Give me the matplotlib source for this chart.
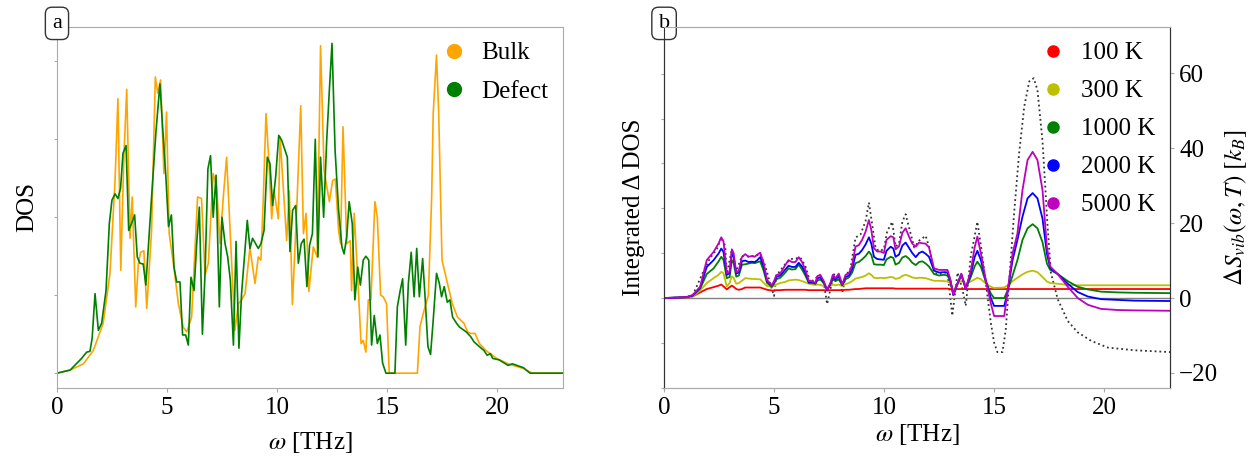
import matplotlib
matplotlib.use("Agg")
import matplotlib.pyplot as plt
from matplotlib.lines import Line2D

plt.rcParams['font.family'] = ['Liberation Serif', 'DejaVu Serif']
plt.rcParams['mathtext.fontset'] = 'stix'

# ---- panel a: phonon DOS (arbitrary units) ----
bulk_w = [0, 0.6, 1.2, 1.65, 2.1, 2.41, 2.64, 2.77, 2.9, 3.04, 3.17, 3.32, 3.42, 3.58, 3.7, 3.8,
          3.95, 4.08, 4.3, 4.47, 4.58, 4.71, 4.86, 4.98, 5.1, 5.29, 5.52, 5.74, 5.9, 6.12, 6.39,
          6.57, 6.73, 6.88, 7.1, 7.26, 7.41, 7.56, 7.71, 7.94, 8.09, 8.24, 8.39, 8.55, 8.77, 9.0,
          9.15, 9.27, 9.38, 9.5, 9.62, 9.76, 9.86, 10.06, 10.14, 10.44, 10.56, 10.7, 10.9, 11.08,
          11.2, 11.32, 11.45, 11.65, 11.83, 11.98, 12.14, 12.38, 12.53, 12.65, 12.8, 12.89, 13.0,
          13.17, 13.33, 13.39, 13.51, 13.7, 13.82, 13.92, 14.04, 14.15, 14.27, 14.45, 14.56, 14.71,
          14.83, 14.98, 15.1, 16.38, 16.5, 16.68, 16.88, 17.03, 17.1, 17.25, 17.35, 17.5, 17.75,
          17.97, 18.2, 18.5, 18.66, 18.8, 19.0, 19.2, 19.5, 19.98, 20.5, 21.2, 21.6, 23.0]
bulk_dos = [0, 0.04, 0.12, 0.29, 0.64, 1.28, 2.47, 3.52, 1.32, 2.77, 3.64, 1.73, 2.26, 0.85, 1.41, 1.55,
            1.57, 0.83, 1.83, 3.8, 3.59, 3.76, 2.56, 3.35, 1.79, 1.41, 0.89, 0.59, 0.53, 0.72, 2.26,
            2.24, 1.26, 1.41, 2.56, 2.39, 1.66, 2.26, 2.77, 1.41, 0.55, 0.89, 0.94, 1.02, 1.61, 1.15,
            1.49, 1.45, 2.26, 3.33, 2.77, 1.98, 2.35, 1.98, 3.03, 1.7, 2.34, 0.88, 2.13, 3.43,
            1.79, 2.05, 1.05, 1.62, 1.49, 4.2, 2.6, 2.2, 2.47, 2.49, 1.83, 1.66, 3.16,
            1.66, 1.7, 1.06, 2.05, 1.06, 0.38, 0.42, 0.27, 0.94, 0.94, 2.2, 2.0, 1.0,
            0.98, 0.89, 0, 0, 0.6, 0.8, 1.0, 2.26, 3.33, 4.08, 3.33, 1.45, 1.15,
            0.89, 0.72, 0.64, 0.53, 0.51, 0.51, 0.38, 0.29, 0.19, 0.12, 0.06, 0, 0]

defect_w = [0, 0.6, 1.12, 1.35, 1.5, 1.6, 1.73, 1.88, 2.03, 2.23, 2.38, 2.5, 2.64, 2.77, 2.89, 3.0,
            3.14, 3.26, 3.39, 3.53, 3.65, 3.77, 3.92, 4.04, 4.2, 4.35, 4.5, 4.68, 4.83, 4.95, 5.07,
            5.2, 5.32, 5.44, 5.59, 5.71, 5.85, 5.97, 6.09, 6.23, 6.35, 6.47, 6.61, 6.73, 6.86, 6.98,
            7.1, 7.23, 7.38, 7.5, 7.64, 7.76, 7.88, 8.02, 8.14, 8.27, 8.39, 8.52, 8.65, 8.77, 8.89,
            9.03, 9.15, 9.27, 9.41, 9.56, 9.68, 9.8, 9.94, 10.08, 10.21, 10.47, 10.59, 10.71, 10.85,
            10.97, 11.1, 11.23, 11.36, 11.48, 11.61, 11.74, 11.86, 11.98, 12.12, 12.26, 12.38, 12.5,
            12.64, 12.8, 12.95, 13.05, 13.17, 13.28, 13.42, 13.54, 13.67, 13.79, 13.92, 14.04, 14.17,
            14.3, 14.42, 14.56, 14.68, 14.8, 14.95, 15.36, 15.47, 15.6, 15.71, 15.85, 15.97, 16.1,
            16.23, 16.35, 16.47, 16.62, 16.73, 16.86, 16.98, 17.1, 17.25, 17.38, 17.48, 17.6, 17.74,
            17.86, 17.98, 18.16, 18.3, 18.6, 18.8, 18.96, 19.2, 19.41, 19.55, 19.7, 19.8, 20.1, 20.5,
            20.7, 21.2, 21.5, 23.0]
defect_dos = [0, 0.04, 0.19, 0.27, 0.28, 0.45, 1.02, 0.55, 0.64, 1.06, 1.92, 2.22, 2.3, 2.24, 2.37, 2.82,
              2.92, 1.83, 1.92, 2.03, 1.49, 1.41, 1.4, 1.13, 1.83, 2.47, 3.1, 3.71, 3.03, 2.52, 1.88,
              2.03, 1.36, 1.17, 1.17, 0.49, 0.49, 0.36, 1.23, 1.06, 1.66, 2.13, 0.5, 1.28, 2.62, 2.79,
              2.0, 2.54, 0.85, 2.0, 1.66, 1.49, 1.19, 0.36, 1.69, 0.32, 1.02, 1.49, 1.96, 1.6, 1.73,
              1.66, 1.6, 1.66, 1.83, 2.77, 2.69, 2.15, 2.52, 3.05, 2.99, 2.77, 1.56, 2.09, 2.15,
              1.41, 1.66, 1.72, 1.11, 1.64, 1.79, 3.0, 1.49, 2.77, 2.0, 2.99, 3.63, 4.23,
              2.86, 2.09, 1.62, 1.53, 1.75, 2.2, 1.92, 0.94, 1.36, 1.13, 1.45, 1.5, 1.45,
              0.36, 0.74, 0.38, 0.49, 0.13, 0, 0, 0.85, 1.06, 1.21, 0.36, 1.15, 1.55,
              0.98, 1.6, 0.98, 1.47, 0.98, 0.34, 0.24, 0.68, 1.28, 1.15, 0.98, 1.11, 0.91,
              0.94, 0.72, 0.64, 0.59, 0.53, 0.47, 0.4, 0.34, 0.29, 0.23, 0.25, 0.19, 0.17, 0.1,
              0.12, 0.07, 0, 0]

# ---- panel b: vibrational entropy change and integrated delta DOS ----
omega_b = [0, 1.0, 1.3, 1.64, 1.94, 2.25, 2.48, 2.6, 2.7, 2.85, 2.98, 3.08, 3.16, 3.28, 3.4, 3.54,
           3.69, 3.84, 3.99, 4.12, 4.22, 4.37, 4.53, 4.68, 4.9, 5.0, 5.1, 5.28, 5.51, 5.66, 5.81,
           5.97, 6.12, 6.27, 6.42, 6.58, 6.73, 6.88, 6.96, 7.1, 7.26, 7.41, 7.56, 7.67, 7.79, 7.94,
           8.1, 8.25, 8.4, 8.55, 8.7, 8.85, 9.0, 9.16, 9.31, 9.42, 9.54, 9.69, 9.84, 9.99, 10.11,
           10.3, 10.42, 10.52, 10.68, 10.83, 10.98, 11.13, 11.28, 11.44, 11.59, 11.74, 11.89, 12.04,
           12.27, 12.5, 12.73, 12.88, 13.0, 13.15, 13.3, 13.51, 13.71, 13.94, 14.12, 14.24, 14.4,
           14.62, 14.85, 15.0, 15.46, 15.6, 15.84, 16.06, 16.29, 16.52, 16.75, 16.97, 17.2, 17.4,
           17.55, 17.89, 18.35, 18.8, 19.26, 19.86, 20.62, 21.38, 23.0]

temps = ['100 K', '300 K', '1000 K', '2000 K', '5000 K']
temp_colors = ['r', 'y', 'g', 'b', 'm']

s_100 = [0, 0.1, 0.4, 1.5, 2.4, 2.9, 3.3, 3.6, 3.1, 2.3, 2.9, 3.3, 3.0, 2.4, 2.2, 2.4,
         2.8, 2.8, 2.8, 2.8, 2.8, 2.8, 2.5, 2.2, 2.0, 2.0, 2.1, 2.1, 2.2, 2.2, 2.2,
         2.2, 2.2, 2.2, 2.2, 2.1, 2.1, 2.1, 2.1, 2.1, 2.1, 2.0, 2.1, 2.1, 2.1, 2.1,
         2.1, 2.2, 2.2, 2.3, 2.4, 2.4, 2.5, 2.6, 2.6, 2.6, 2.6, 2.6, 2.6, 2.6, 2.6,
         2.6, 2.6, 2.5, 2.5, 2.5, 2.5, 2.5, 2.5, 2.5, 2.5, 2.5, 2.5, 2.5,
         2.5, 2.5, 2.5, 2.5, 2.4, 2.3, 2.4, 2.4, 2.4, 2.4, 2.4, 2.4, 2.4,
         2.4, 2.4, 2.4, 2.4, 2.4, 2.4, 2.4, 2.4, 2.4, 2.4, 2.4, 2.4, 2.4,
         2.4, 2.4, 2.4, 2.4, 2.4, 2.4, 2.4, 2.4, 2.4]
s_300 = [0, 0.1, 0.4, 2.0, 4.0, 5.3, 6.2, 7.0, 6.6, 3.1, 4.0, 5.8, 5.4, 3.8, 4.0, 4.6,
         5.3, 5.2, 5.1, 5.1, 5.0, 5.0, 4.0, 3.2, 3.0, 3.2, 3.6, 4.0, 4.3, 4.7, 4.8,
         4.9, 4.8, 4.5, 4.2, 3.8, 3.6, 3.5, 3.6, 3.5, 3.2, 2.7, 3.2, 3.6, 3.4, 3.6,
         3.2, 3.7, 4.0, 4.5, 5.2, 5.4, 5.6, 6.0, 6.6, 6.2, 5.4, 5.3, 5.4, 5.3, 5.4,
         5.6, 5.5, 5.1, 5.3, 5.9, 6.2, 5.9, 5.5, 5.3, 5.4, 5.4, 5.3, 5.0,
         4.6, 4.6, 4.5, 4.4, 4.0, 1.8, 3.6, 4.6, 3.8, 4.4, 5.0, 5.4, 5.0,
         3.9, 3.0, 2.7, 2.8, 3.3, 4.5, 5.4, 6.3, 7.0, 7.3, 6.9, 5.6, 4.4,
         4.0, 3.8, 3.5, 3.4, 3.4, 3.4, 3.4, 3.4, 3.4]
s_1000 = [0, 0.2, 0.6, 2.5, 6.4, 7.9, 9.8, 11.0, 10.2, 5.3, 5.6, 10.1, 9.4, 5.7, 6.0, 8.9,
          9.0, 9.2, 9.4, 9.3, 9.5, 9.8, 7.2, 4.0, 3.0, 3.8, 5.0, 5.4, 6.8, 7.9, 7.6,
          7.7, 8.9, 7.6, 6.0, 4.0, 4.0, 3.8, 4.6, 5.0, 3.9, 2.2, 3.6, 5.0, 4.5, 5.0,
          3.4, 5.0, 5.5, 6.8, 9.3, 9.6, 10.3, 11.2, 12.4, 11.5, 9.0, 8.9, 8.9, 8.8, 10.3,
          11.0, 10.7, 8.9, 9.4, 10.8, 11.2, 10.5, 9.4, 8.8, 9.6, 9.8, 9.2, 8.4,
          6.4, 6.0, 6.2, 6.0, 4.7, 0.8, 3.1, 6.3, 2.5, 5.6, 8.5, 9.7, 8.3,
          4.4, 1.2, 0.0, 0.0, 1.8, 6.0, 10.1, 15.5, 18.6, 19.7, 18.6, 14.9, 9.2,
          7.5, 6.4, 4.5, 3.0, 2.3, 1.7, 1.5, 1.4, 1.3]
s_2000 = [0, 0.2, 0.7, 2.8, 8.3, 10.1, 11.9, 13.2, 12.3, 6.2, 6.6, 11.9, 11.0, 6.5, 6.8, 9.8,
          10.0, 9.6, 9.7, 9.6, 10.0, 10.9, 8.3, 4.5, 3.3, 4.2, 5.6, 6.0, 7.6, 8.6, 8.3,
          8.3, 9.4, 8.4, 6.8, 4.2, 4.3, 3.9, 5.2, 5.6, 4.2, 2.1, 3.8, 5.6, 4.9, 5.8,
          3.5, 5.6, 6.0, 7.8, 11.5, 11.8, 12.8, 14.3, 16.2, 14.5, 11.0, 10.4, 10.3, 10.2, 12.6,
          13.7, 13.2, 11.0, 11.6, 14.0, 14.8, 13.4, 12.0, 10.9, 12.0, 12.4, 11.8, 11.0,
          7.3, 6.8, 6.9, 6.8, 5.0, 0.8, 3.4, 6.3, 2.5, 6.5, 11.0, 12.6, 10.1,
          4.8, 0.0, -2.1, -2.1, 1.2, 10.1, 15.5, 21.7, 26.6, 28.0, 26.6, 21.2, 11.9,
          8.0, 6.4, 3.8, 1.6, 0.4, -0.3, -0.5, -0.7, -0.8]
s_5000 = [0, 0.2, 0.8, 3.0, 10.1, 12.3, 14.6, 16.2, 15.1, 6.6, 7.0, 13.0, 12.0, 6.9, 7.3, 11.0,
          11.7, 11.0, 11.2, 11.0, 11.5, 12.1, 9.3, 4.8, 3.4, 4.5, 6.1, 6.5, 8.8, 10.1, 9.6,
          9.6, 10.9, 9.6, 7.6, 4.5, 4.5, 4.0, 5.8, 6.2, 4.5, 2.2, 4.0, 6.2, 5.3, 6.5,
          3.6, 6.2, 6.6, 8.8, 13.7, 14.1, 15.5, 17.7, 20.8, 18.1, 13.3, 12.4, 12.4, 12.0, 15.5,
          16.5, 16.2, 13.0, 13.8, 17.4, 18.6, 16.4, 14.5, 13.7, 14.8, 14.6, 14.5, 13.5,
          7.9, 7.5, 7.5, 7.5, 5.2, 0.8, 3.4, 6.5, 2.5, 7.3, 13.6, 16.4, 11.9,
          4.8, -1.4, -4.8, -4.8, 1.2, 11.9, 17.2, 28.8, 36.8, 39.0, 36.8, 28.8, 13.6,
          8.4, 6.4, 3.0, 0.0, -1.8, -2.9, -3.2, -3.3, -3.4]
entropy = [s_100, s_300, s_1000, s_2000, s_5000]

idos_w = [0, 1.0, 1.3, 1.79, 2.1, 2.4, 2.6, 2.78, 2.85, 3.08, 3.28, 3.54, 3.84, 4.14, 4.37, 4.6,
          4.83, 5.0, 5.1, 5.51, 5.74, 6.2, 6.42, 6.65, 6.96, 7.26, 7.41, 7.56, 7.71, 7.94, 8.1,
          8.25, 8.47, 8.7, 8.93, 9.16, 9.31, 9.46, 9.61, 9.76, 9.99, 10.14, 10.37, 10.52, 10.68,
          10.83, 10.98, 11.13, 11.37, 11.59, 11.89, 12.04, 12.27, 12.5, 12.73, 12.88, 13.1, 13.34,
          13.56, 13.71, 13.94, 14.12, 14.24, 14.4, 14.62, 14.85, 15.0, 15.15, 15.38, 15.53, 15.69,
          15.91, 16.14, 16.37, 16.6, 16.8, 16.97, 17.2, 17.43, 17.58, 17.89, 18.35, 18.8, 19.41,
          20.17, 21.38, 23.0]
idos = [0, 0.02, 0.06, 0.6, 0.9, 1.09, 1.35, 1.16, 0.53, 1.09, 0.6, 0.94, 0.93, 0.94, 0.98, 0.72,
        0.31, 0.05, 0.5, 0.76, 0.87, 0.9, 0.72, 0.35, 0.47, 0.35, -0.13, 0.2, 0.53, 0.5, 0.12,
        0.5, 0.65, 1.35, 1.42, 1.72, 2.13, 1.64, 1.13, 1.05, 1.09, 1.49, 1.7, 1.15, 1.22,
        1.7, 1.87, 1.58, 1.13, 1.28, 1.39, 1.15, 0.57, 0.53, 0.57, 0.57, -0.39, 0.57,
        0.2, -0.17, 0.94, 1.39, 1.7, 1.17, 0.35, -0.54, -0.99, -1.2, -1.2, -0.7, 0.42,
        1.9, 3.24, 4.27, 4.83, 4.9, 4.64, 3.5, 1.61, 0.57, -0.02, -0.51, -0.76, -0.95,
        -1.1, -1.16, -1.2]

fig = plt.figure(figsize=(12.52, 4.59), dpi=100)
ax1 = fig.add_axes([0.0455, 0.1547, 0.4042, 0.7865])
ax2 = fig.add_axes([0.5304, 0.1547, 0.4042, 0.7865])

light = '#aaaaaa'
fs = 18

# panel a
ax1.plot(bulk_w, bulk_dos, color='orange', lw=1.2)
ax1.plot(defect_w, defect_dos, color='green', lw=1.2)
ax1.set_xlim(0, 23)
ax1.set_ylim(-0.19, 4.44)
ax1.set_yticks([0, 1, 2, 3, 4])
ax1.set_yticklabels([])
ax1.set_xticks([0, 5, 10, 15, 20])
ax1.tick_params(axis='both', labelsize=fs, length=3, color=light)
ax1.tick_params(axis='y', length=2)
for sp in ax1.spines.values():
    sp.set_color(light)
ax1.set_xlabel(r'$\omega$ [THz]', fontsize=fs, labelpad=8)
ax1.set_ylabel('DOS', fontsize=fs, labelpad=8)
h_a = [Line2D([], [], ls='none', marker='o', ms=10, color=c) for c in ['orange', 'green']]
ax1.legend(h_a, ['Bulk', 'Defect'], loc='upper right', bbox_to_anchor=(1.0, 1.0), frameon=False,
           fontsize=fs, handlelength=1.2, handletextpad=0.5, labelspacing=0.65, borderaxespad=0.2)
ax1.text(0, 1.01, 'a', transform=ax1.transAxes, ha='center', va='center', fontsize=16,
         bbox=dict(boxstyle='round,pad=0.3', fc='white', ec='#333333'))

# panel b
ax2.plot(idos_w, idos, color='#333333', ls=':', lw=1.3)
ax2.set_xlim(0, 23)
ax2.set_ylim(-2, 6.04)
ax2.set_yticks([-2, -1, 0, 1, 2, 3, 4, 5])
ax2.set_yticklabels([])
ax2.set_xticks([0, 5, 10, 15, 20])
ax2.tick_params(axis='both', labelsize=fs, length=3, color=light)
ax2.tick_params(axis='y', length=2)
ax2.set_xlabel(r'$\omega$ [THz]', fontsize=fs, labelpad=2)
ax2.set_ylabel('Integrated Δ DOS', fontsize=fs, labelpad=8)

ax3 = ax2.twinx()
ax3.axhline(0, color='gray', lw=1)
for vals, c in zip(entropy, temp_colors):
    ax3.plot(omega_b, vals, color=c, lw=1.3)
ax3.set_ylim(-24, 72.3)
ax3.set_yticks([-20, 0, 20, 40, 60])
ax3.tick_params(axis='y', labelsize=fs, length=3, color=light)
ax3.set_ylabel(r'$\Delta S_{vib}(\omega,T)$ $[k_B]$', fontsize=fs, labelpad=3)
for ax in (ax2, ax3):
    ax.spines['top'].set_color(light)
    ax.spines['bottom'].set_color(light)
    ax.spines['left'].set_color('#333333')
    ax.spines['right'].set_color('#333333')
h_b = [Line2D([], [], ls='none', marker='o', ms=8, color=c) for c in temp_colors]
ax3.legend(h_b, temps, loc='upper right', bbox_to_anchor=(1.0, 1.0), frameon=False,
           fontsize=fs, handlelength=1.2, handletextpad=0.5, labelspacing=0.62, borderaxespad=0.2)
ax2.text(0, 1.01, 'b', transform=ax2.transAxes, ha='center', va='center', fontsize=16,
         bbox=dict(boxstyle='round,pad=0.3', fc='white', ec='#333333'), zorder=10)

fig.savefig('out.png', dpi=100)
